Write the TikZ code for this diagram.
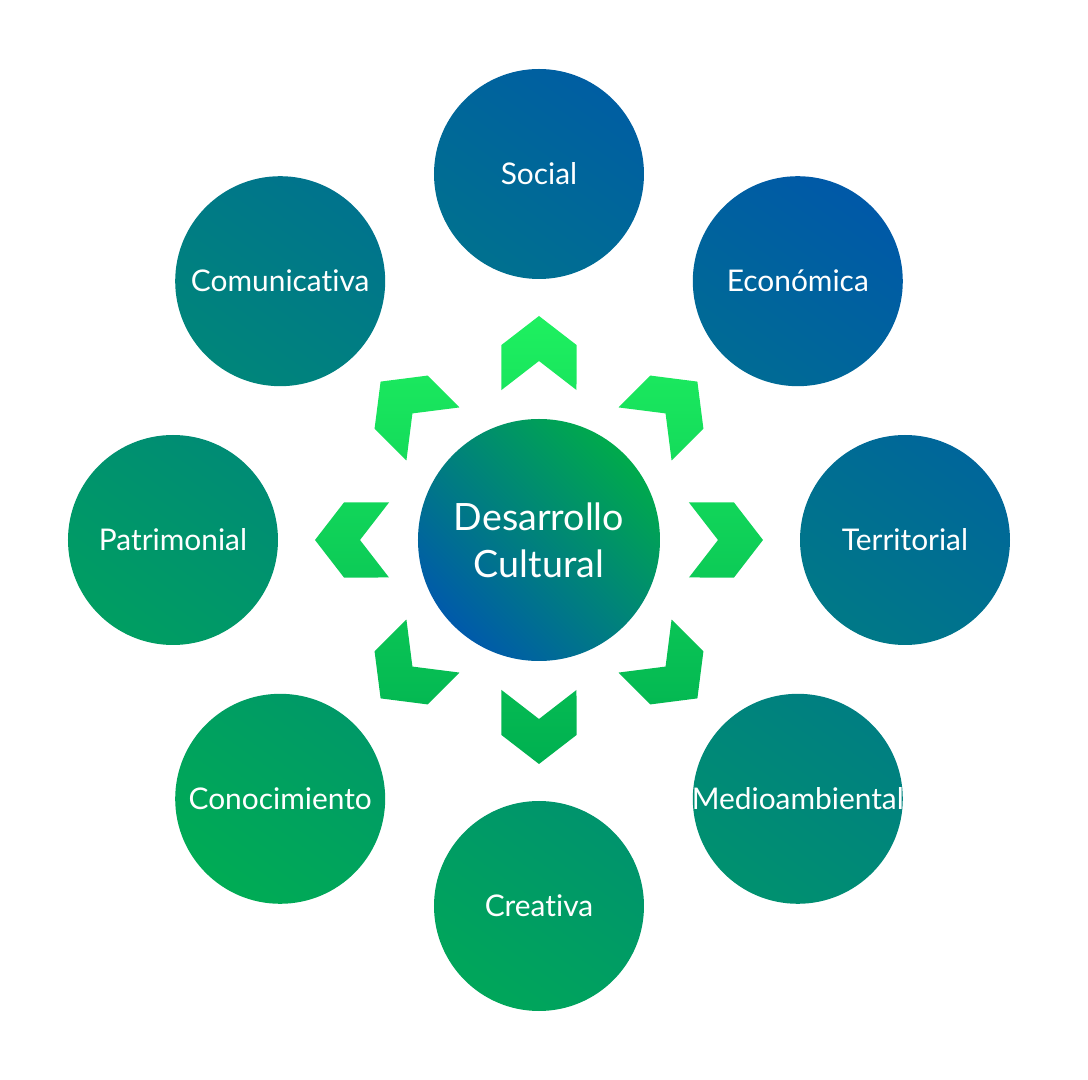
\documentclass[tikz,border=0pt]{standalone}
\usepackage{fontspec}
\setmainfont{Lato}[Ligatures=NoCommon]
\usepackage{tikz}
\usetikzlibrary{positioning}
\definecolor{dimblue}{RGB}{0,88,168}
\definecolor{dimgreen}{RGB}{0,172,84}
\definecolor{coregreen}{RGB}{0,170,76}
\definecolor{coreblue}{RGB}{0,90,170}
\definecolor{chevlight}{RGB}{30,240,96}
\definecolor{chevdark}{RGB}{0,176,80}
\pgfdeclarelayer{background}
\pgfsetlayers{background,main}
\tikzset{
    dimnode/.style={circle, minimum size=21mm, inner sep=0pt, text=white, font=\fontsize{8.5}{10.5}\selectfont},
    corenode/.style={circle, minimum size=24.2mm, inner sep=0pt, text=white, align=center,
        font=\fontsize{10.7}{13.4}\selectfont, top color=coregreen, bottom color=coreblue, shading angle=-45},
    dimshade/.style={top color=dimblue, bottom color=dimgreen, shading angle=-35},
    chevshade/.style={top color=chevlight, bottom color=chevdark}
}

\begin{document}
\begin{tikzpicture}
    \useasboundingbox (-5.39,-5.40) rectangle (5.49,5.40);
    % centre
    \node[corenode] (core) at (0,0) {Desarrollo\\Cultural};
    % the eight dimensions
    \node[dimnode] (social) at (90:3.66) {Social};
    \node[dimnode] (economica) at (45:3.66) {Económica};
    \node[dimnode] (territorial) at (0:3.66) {Territorial};
    \node[dimnode] (medioamb) at (-45:3.66) {Medioambiental};
    \node[dimnode] (creativa) at (-90:3.66) {Creativa};
    \node[dimnode] (conocim) at (-135:3.66) {Conocimiento};
    \node[dimnode] (patrimon) at (180:3.66) {Patrimonial};
    \node[dimnode] (comunic) at (135:3.66) {Comunicativa};
    \begin{pgfonlayer}{background}
        \shade[dimshade] (social.center) circle (1.05) (economica.center) circle (1.05)
            (territorial.center) circle (1.05) (medioamb.center) circle (1.05)
            (creativa.center) circle (1.05) (conocim.center) circle (1.05)
            (patrimon.center) circle (1.05) (comunic.center) circle (1.05);
    \end{pgfonlayer}
    % chevrons pointing outwards
    \shade[chevshade] \foreach \a in {0,45,...,315}{
        (\a:2.24) -- ({\a-10.89}:1.986) -- ({\a-14.04}:1.546) -- (\a:1.79)
        -- ({\a+14.04}:1.546) -- ({\a+10.89}:1.986) -- cycle};
\end{tikzpicture}
\end{document}
